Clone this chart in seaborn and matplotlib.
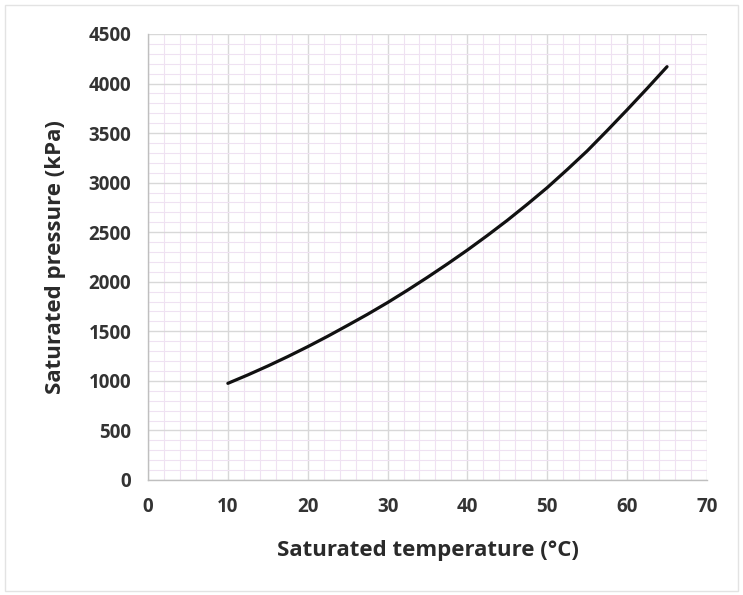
import numpy as np
import pandas as pd
import matplotlib
matplotlib.use("Agg")
import matplotlib.pyplot as plt
from matplotlib.ticker import MultipleLocator
from matplotlib.patches import Rectangle
import seaborn as sns

# saturation curve (gauge pressure)
temperature_c = [10, 12.5, 15, 17.5, 20, 22.5, 25, 27.5, 30, 32.5, 35, 37.5,
                 40, 42.5, 45, 47.5, 50, 52.5, 55, 57.5, 60, 62.5, 65]
pressure_kpa = [975, 1060, 1150, 1245, 1345, 1450, 1560, 1672, 1790, 1915, 2045, 2180,
                2320, 2467, 2620, 2782, 2950, 3132, 3320, 3525, 3735, 3950, 4170]

sns.set_style("white")
plt.rcParams['font.family'] = ['Open Sans', 'DejaVu Sans']

df = pd.DataFrame({"temperature": temperature_c, "pressure": pressure_kpa})

fig = plt.figure(figsize=(7.43, 5.95), dpi=100)
ax = fig.add_axes([0.1992, 0.1933, 0.7523, 0.7496])

sns.lineplot(data=df, x="temperature", y="pressure", color="#111111", linewidth=2.3, ax=ax)
ax.lines[0].set_solid_capstyle('round')
ax.lines[0].set_solid_joinstyle('round')

ax.set_xlim(0, 70)
ax.set_ylim(0, 4500)
ax.xaxis.set_major_locator(MultipleLocator(10))
ax.xaxis.set_minor_locator(MultipleLocator(2))
ax.yaxis.set_major_locator(MultipleLocator(500))
ax.yaxis.set_minor_locator(MultipleLocator(100))

ax.grid(which='minor', color='#efe2f2', linewidth=0.8)
ax.grid(which='major', color='#d8d8d8', linewidth=1.0)
ax.set_axisbelow(True)

for side in ['top', 'right']:
    ax.spines[side].set_visible(False)
for side in ['left', 'bottom']:
    ax.spines[side].set_color('#bfbfbf')
    ax.spines[side].set_linewidth(1.0)

ax.tick_params(which='major', direction='out', length=5, width=1.0, color='#bfbfbf',
               labelsize=13.5, labelcolor='#333333', pad=7)
ax.tick_params(which='minor', length=0)
for lbl in ax.get_xticklabels() + ax.get_yticklabels():
    lbl.set_fontweight('bold')

ax.set_xlabel("Saturated temperature (°C)", fontsize=16, fontweight='bold', color='#2a2a2a', labelpad=17)
ax.set_ylabel("Saturated pressure (kPa)", fontsize=16, fontweight='bold', color='#2a2a2a', labelpad=16)

# faint frame around the whole picture
fig.patches.append(Rectangle((0.007, 0.007), 0.986, 0.985, transform=fig.transFigure,
                             fill=False, edgecolor='#e3e3e3', linewidth=1.0))

plt.savefig("out.png", dpi=100)
